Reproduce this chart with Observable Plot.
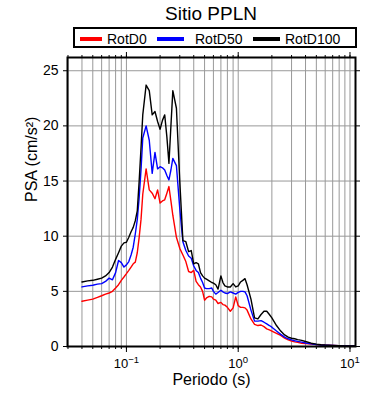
<!DOCTYPE html>
<html>
<head>
<meta charset="utf-8">
<script src="https://cdn.jsdelivr.net/npm/d3@7"></script>
<script src="https://cdn.jsdelivr.net/npm/@observablehq/plot@0.6"></script>
<style>
  body { margin: 0; background: #fff; font-family: "Liberation Sans", Arial, Helvetica, sans-serif; color: #000; }
  #head { position: relative; width: 390px; height: 52px; }
  #title { position: absolute; left: 0; top: 4px; width: 422px; text-align: center; font-size: 19px; line-height: 19px; white-space: nowrap; }
  #legend { position: absolute; left: 73px; top: 27px; width: 284px; height: 21px; box-sizing: border-box; border: 2px solid #000; background: #fff; }
  .sw { position: absolute; top: 8px; height: 4px; }
  .lt { position: absolute; top: 3px; font-size: 14px; line-height: 14px; white-space: nowrap; }
  #chart svg { display: block; }
</style>
</head>
<body>
<div id="head">
  <div id="title"></div>
  <div id="legend"></div>
</div>
<div id="chart"></div>
<script>
// ---- data ----
const titleText = "Sitio PPLN";
const seriesNames = ["RotD0", "RotD50", "RotD100"];
const seriesColors = ["#ff0000", "#0000ff", "#000000"];

const periods = [0.04, 0.045, 0.05, 0.055, 0.06, 0.065, 0.07, 0.075, 0.08, 0.085, 0.09, 0.095,
  0.1, 0.105, 0.11, 0.115, 0.12, 0.125, 0.13, 0.135, 0.14, 0.15, 0.16, 0.17, 0.18, 0.19,
  0.2, 0.21, 0.22, 0.23, 0.24, 0.25, 0.26, 0.28, 0.30, 0.32, 0.34, 0.36, 0.38, 0.40,
  0.42, 0.44, 0.46, 0.48, 0.50, 0.52, 0.55, 0.58, 0.60, 0.63, 0.66, 0.70, 0.73, 0.76,
  0.80, 0.85, 0.90, 0.95, 1.0, 1.05, 1.1, 1.15, 1.2, 1.3, 1.4, 1.5, 1.6, 1.7, 1.8, 1.9,
  2.0, 2.2, 2.4, 2.6, 2.8, 3.0, 3.2, 3.4, 3.7, 4.0, 4.5, 5.0, 5.5, 6.0, 7.0, 8.0, 9.0, 10.0, 11.0];

const rotD0 = [4.1, 4.2, 4.3, 4.45, 4.6, 4.75, 4.85, 5.0, 5.3, 5.6, 6.0, 6.3,
  6.6, 6.9, 7.2, 7.5, 7.65, 8.5, 9.9, 11.5, 13.8, 16.1, 14.2, 13.9, 13.4, 14.2,
  13.0, 13.2, 13.3, 13.9, 14.5, 13.2, 11.9, 9.9, 8.9, 8.3, 7.7, 6.8, 6.7, 6.9,
  5.9, 5.6, 5.4, 5.0, 4.2, 4.4, 4.55, 4.5, 4.3, 4.2, 3.9, 4.0, 3.8, 3.75,
  3.55, 3.2, 3.5, 4.5, 3.7, 3.55, 3.55, 3.5, 3.3, 2.5, 2.0, 1.9, 1.95, 1.8, 1.6, 1.5,
  1.4, 1.2, 1.0, 0.75, 0.6, 0.5, 0.42, 0.37, 0.3, 0.27, 0.22, 0.17, 0.14, 0.12, 0.09, 0.07, 0.06, 0.05, 0.04];

const rotD50 = [5.4, 5.5, 5.55, 5.65, 5.7, 5.9, 6.2, 6.05, 6.7, 7.8, 7.6, 7.2,
  7.4, 7.7, 8.3, 9.0, 10.2, 11.5, 13.5, 16.0, 18.9, 20.0, 18.7, 15.7, 17.6, 16.1,
  16.3, 16.2, 16.0, 15.5, 15.1, 16.0, 17.05, 16.4, 12.5, 9.5, 8.7, 8.2, 8.0, 7.3,
  6.9, 6.7, 6.2, 5.8, 5.3, 5.25, 5.25, 5.3, 5.0, 4.75, 4.9, 5.1, 4.95, 4.85,
  4.8, 4.95, 4.85, 4.75, 4.9, 5.0, 5.0, 4.95, 4.6, 3.3, 2.3, 2.3, 2.35, 2.2, 2.05, 1.9,
  1.75, 1.4, 1.1, 0.85, 0.7, 0.6, 0.52, 0.46, 0.4, 0.32, 0.24, 0.18, 0.14, 0.12, 0.09, 0.07, 0.06, 0.05, 0.04];

const rotD100 = [5.85, 5.95, 6.0, 6.1, 6.2, 6.4, 6.7, 7.2, 7.9, 8.5, 9.1, 9.4,
  9.45, 9.9, 10.4, 10.8, 11.4, 12.3, 15.0, 18.0, 21.0, 23.7, 23.2, 21.0, 21.3, 20.4,
  19.7, 20.5, 21.0, 19.0, 16.6, 20.0, 23.2, 21.6, 15.0, 9.6, 9.5, 8.6, 8.7, 7.5,
  7.6, 7.5, 6.7, 6.4, 6.2, 6.1, 5.95, 5.8, 5.75, 5.6, 5.2, 6.4, 5.8, 5.5,
  5.4, 5.4, 5.7, 5.4, 5.5, 5.85, 6.0, 6.15, 5.6, 4.3, 2.6, 2.5, 2.9, 3.2, 3.2, 2.9,
  2.6, 1.9, 1.4, 1.05, 0.85, 0.75, 0.7, 0.62, 0.55, 0.45, 0.3, 0.22, 0.16, 0.13, 0.1, 0.08, 0.06, 0.05, 0.04];

const xDomain = [0.0297, 11.2];
const yDomain = [0, 26.2];
const xMajorTicks = [0.1, 1, 10];
const yTicks = [0, 5, 10, 15, 20, 25];
const xLabel = "Periodo (s)";
const yLabel = "PSA (cm/s²)";

// ---- build ----
document.getElementById("title").textContent = titleText;

const legend = document.getElementById("legend");
const swLeft = [5, 82, 178], swWidth = [22, 27, 27], txtLeft = [32, 120, 210];
seriesNames.forEach((name, i) => {
  const sw = document.createElement("div");
  sw.className = "sw";
  sw.style.left = swLeft[i] + "px";
  sw.style.width = swWidth[i] + "px";
  sw.style.background = seriesColors[i];
  legend.appendChild(sw);
  const t = document.createElement("div");
  t.className = "lt";
  t.style.left = txtLeft[i] + "px";
  t.textContent = name;
  legend.appendChild(t);
});

const allSeries = [rotD0, rotD50, rotD100];
const rows = [];
allSeries.forEach((vals, i) => {
  periods.forEach((p, j) => rows.push({series: seriesNames[i], period: p, psa: vals[j]}));
});

// minor tick positions for the log axis (1..9 per decade)
const minorTicks = [];
for (const dec of [0.01, 0.1, 1, 10]) {
  for (let k = 1; k <= 9; k++) {
    const v = +(k * dec).toPrecision(3);
    if (v >= xDomain[0] && v <= xDomain[1]) minorTicks.push(v);
  }
}

const blank = () => "";

const chart = Plot.plot({
  width: 390,
  height: 348,
  marginTop: 5,
  marginBottom: 54,
  marginLeft: 67,
  marginRight: 35,
  style: {fontFamily: "'Liberation Sans', Arial, sans-serif", fontSize: "14px", color: "#000", background: "#fff"},
  x: {type: "log", domain: xDomain},
  y: {domain: yDomain},
  color: {domain: seriesNames, range: seriesColors},
  marks: [
    Plot.gridX(minorTicks, {stroke: "#999", strokeOpacity: 1, strokeWidth: 1}),
    Plot.gridY(yTicks.filter(d => d > 0), {stroke: "#999", strokeOpacity: 1, strokeWidth: 1}),
    Plot.line(rows, {x: "period", y: "psa", z: "series", stroke: "series", strokeWidth: 1.4}),
    Plot.frame({stroke: "#000", strokeWidth: 2}),
    Plot.axisX({ticks: minorTicks, tickSize: 3, tickFormat: blank, anchor: "bottom", label: null}),
    Plot.axisX({ticks: minorTicks, tickSize: 3, tickFormat: blank, anchor: "top", label: null}),
    Plot.axisX({ticks: xMajorTicks, tickSize: 6, anchor: "top", tickFormat: blank, label: null}),
    Plot.axisX({ticks: xMajorTicks, tickSize: 6, tickPadding: 6, anchor: "bottom", fontSize: 13,
      tickFormat: d => "10^" + Math.round(Math.log10(d)), label: null}),
    Plot.axisY({ticks: yTicks, tickSize: 4, tickPadding: 5, anchor: "left", fontSize: 14, label: null}),
    Plot.axisY({ticks: yTicks, tickSize: 4, anchor: "right", tickFormat: blank, label: null}),
    Plot.text([xLabel], {frameAnchor: "bottom", dy: 38, lineAnchor: "bottom", fontSize: 16}),
    Plot.text([yLabel], {frameAnchor: "left", dx: -36, rotate: -90, fontSize: 16})
  ]
});

document.getElementById("chart").appendChild(chart);

// superscript exponents on the log axis labels
d3.select(chart).selectAll("text").each(function() {
  const s = this.textContent;
  const m = /^10\^(-?\d+)$/.exec(s);
  if (!m) return;
  const sel = d3.select(this);
  sel.text("10");
  sel.append("tspan").attr("dy", "-0.45em").attr("font-size", "9.5px").text(m[1].replace("-", "\u2212"));
});
</script>
</body>
</html>
